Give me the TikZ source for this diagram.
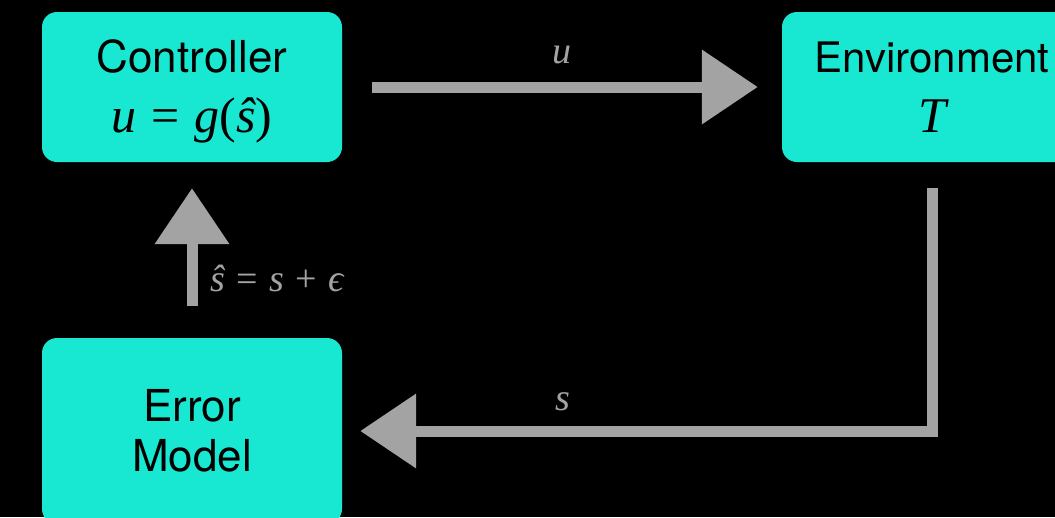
\documentclass[tikz,border=0pt]{standalone}
\usepackage[no-math]{fontspec}
\setmainfont{TeX Gyre Heros}
\newfontfamily\tms{Liberation Serif}
\usetikzlibrary{arrows.meta}
\definecolor{boxfill}{HTML}{18E8D2}
\definecolor{chalk}{HTML}{A3A3A3}
\newcommand{\mi}[1]{{\tms\itshape #1}}
\newcommand{\mr}[1]{{\tms #1}}
\newcommand{\opsp}{\hspace{0.3em}}
\begin{document}
\begin{tikzpicture}[x=1pt,y=-1pt,
  box/.style={fill=boxfill, rounded corners=15pt, minimum width=300pt, align=center, text=black, inner sep=0pt},
  arr/.style={draw=chalk, line width=11pt, -{Triangle[length=56pt,width=72pt]}},
  lbl/.style={text=chalk, inner sep=0pt, font=\fontsize{38}{40}\selectfont}]
\fill[black] (0,0) rectangle (1055,517);
\useasboundingbox (0,0) rectangle (1055,517);
\node[box, minimum height=150pt, font=\fontsize{44}{60}\selectfont] (ctrl) at (192,87)
  {\rule{0pt}{41pt}Controller\\ {\fontsize{50}{60}\selectfont\mi{u}\opsp\mr{=}\opsp\mi{g}\mr{(}\mi{ŝ}\mr{)}}};
\node[box, minimum height=150pt, font=\fontsize{42}{60}\selectfont] (env) at (932,87)
  {Environment\\ {\fontsize{50}{60}\selectfont\mi{T}}};
\node[box, minimum height=186pt, font=\fontsize{44}{50}\selectfont] (err) at (192,431)
  {Error\\ Model};
\draw[arr, shorten <=30pt, shorten >=24pt] (ctrl.east) -- (env.west);
\draw[arr, shorten <=32pt, shorten >=26pt] (err.north) -- (ctrl.south);
\draw[arr, shorten <=26pt, shorten >=18pt] (env.south) |- (err.east);
\node[lbl] (lu) at (562,55) {\mi{u}};
\node[lbl, anchor=west] (lshat) at (210,278) {\mi{ŝ}\opsp\mr{=}\opsp\mi{s}\opsp\mr{+}\opsp\mi{ϵ}};
\node[lbl] (ls) at (563,402) {\mi{s}};
\end{tikzpicture}
\end{document}
